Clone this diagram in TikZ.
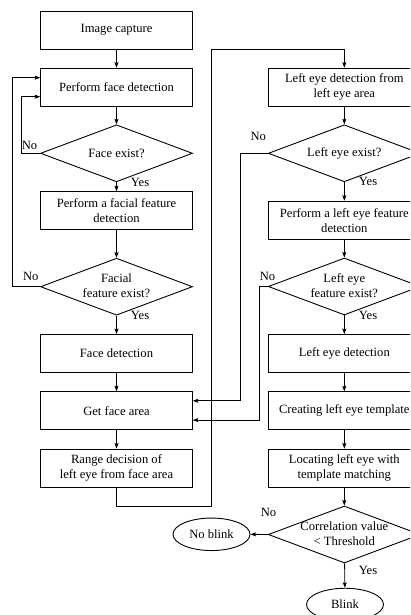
\documentclass[tikz,border=0pt]{standalone}
\usepackage{fontspec}
\setmainfont{Liberation Serif}
\usetikzlibrary{shapes.geometric,arrows.meta}
\begin{document}
\begin{tikzpicture}[x=1pt,y=-1pt,
  font=\fontsize{12.6}{15}\selectfont,
  box/.style={draw,line width=0.9pt,minimum width=151.6pt,minimum height=38pt,inner sep=0pt,align=center},
  dia/.style={draw,diamond,line width=0.9pt,minimum width=152pt,minimum height=57pt,inner sep=0pt},
  oval/.style={draw,ellipse,line width=0.9pt,minimum width=77pt,minimum height=32.5pt,inner sep=0pt},
  lbl/.style={inner sep=0pt,align=center},
  arr/.style={line width=0.8pt,-{Stealth[length=5.5pt,width=4pt,inset=1pt]}}]
\useasboundingbox (0,0) rectangle (410,615);
\fill[white] (0,0) rectangle (410,615);
\clip (0,0) rectangle (410,615);
% left column
\node[box] (ic) at (116.5,30) {Image capture};
\node[box] (pfd) at (116.5,87.2) {Perform face detection};
\node[dia] (fe) at (116.5,153.3) {};
\node[lbl] (fet) at (116.5,153.3) {Face exist?};
\node[box] (pff) at (116.5,210.8) {Perform a facial feature\\detection};
\node[dia] (ffe) at (116.5,286.7) {};
\node[lbl] (ffet) at (116.5,286) {Facial\\feature exist?};
\node[box] (fd) at (116.5,353.5) {Face detection};
\node[box] (gfa) at (116.5,410.8) {Get face area};
\node[box] (rd) at (116.5,468) {Range decision of\\left eye from face area};
% right column
\node[box] (led) at (344.3,87.2) {Left eye detection from\\left eye area};
\node[dia] (lee) at (344.3,153.3) {};
\node[lbl] (leet) at (344.3,153.3) {Left eye exist?};
\node[box] (plf) at (344.3,220.2) {Perform a left eye feature\\detection};
\node[dia] (lfe) at (344.3,286.5) {};
\node[lbl] (lfet) at (344.3,286) {Left eye\\feature exist?};
\node[box] (ld) at (344.3,353.5) {Left eye detection};
\node[box] (clt) at (344.3,410.8) {Creating left eye template};
\node[box] (lle) at (344.3,468) {Locating left eye with\\template matching};
\node[dia] (cv) at (344.3,534.5) {};
\node[lbl] (cvt) at (344.3,534) {Correlation value\\< Threshold};
\node[oval] (nb) at (211.5,534.3) {No blink};
\node[oval] (bl) at (345,604.5) {Blink};
% labels
\node[lbl] (no1) at (29.5,145) {No};
\node[lbl] (no2) at (30.8,276) {No};
\node[lbl] (no3) at (258.3,136) {No};
\node[lbl] (no4) at (267.5,276.7) {No};
\node[lbl] (no5) at (268.5,512.3) {No};
\node[lbl] (y1) at (140,182.7) {Yes};
\node[lbl] (y2) at (140,315.5) {Yes};
\node[lbl] (y3) at (368,181.7) {Yes};
\node[lbl] (y4) at (368,315) {Yes};
\node[lbl] (y5) at (368,570.7) {Yes};
% connectors
\draw[arr] (ic) -- (pfd);
\draw[arr] (pfd) -- (fe);
\draw[arr] (fe) -- (pff);
\draw[arr] (pff) -- (ffe);
\draw[arr] (ffe) -- (fd);
\draw[arr] (fd) -- (gfa);
\draw[arr] (gfa) -- (rd);
\draw[arr] (rd.south) |- (211.7,506) -- (211.7,49.3) -| (led.north);
\draw[arr] (led) -- (lee);
\draw[arr] (lee) -- (plf);
\draw[arr] (plf) -- (lfe);
\draw[arr] (lfe) -- (ld);
\draw[arr] (ld) -- (clt);
\draw[arr] (clt) -- (lle);
\draw[arr] (lle) -- (cv);
\draw[arr] (cv) -- (bl);
\draw[arr] (cv.west) -- (nb.east);
\draw[arr] (fe.west) -- (21,153.3) |- ([yshift=-9.5pt]pfd.west);
\draw[arr] (ffe.west) -- (12.3,286.7) |- ([yshift=9.5pt]pfd.west);
\draw[arr] (lee.west) -- (240,153.3) |- ([yshift=10pt]gfa.east);
\draw[arr] (lfe.west) -- (259.5,286.5) |- ([yshift=-9.3pt]gfa.east);
\end{tikzpicture}
\end{document}
